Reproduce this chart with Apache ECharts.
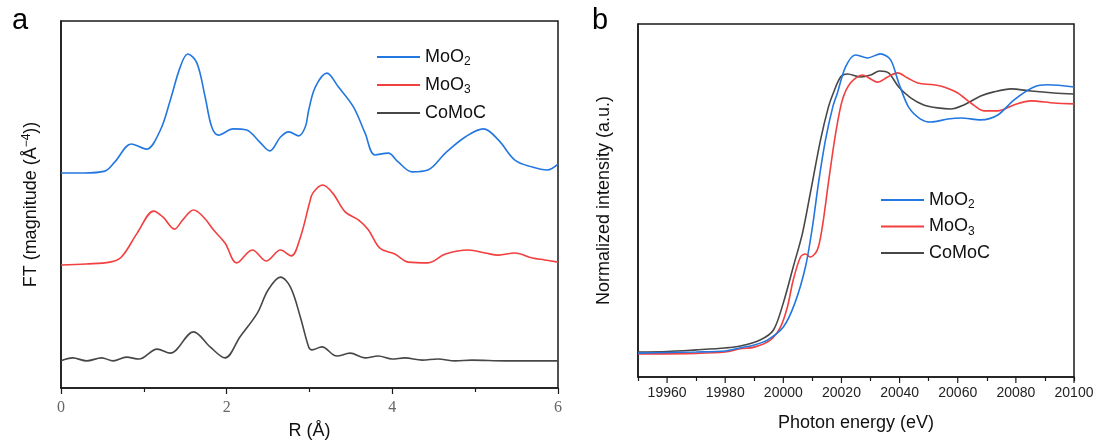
<!DOCTYPE html>
<html><head><meta charset="utf-8">
<script src="https://cdn.jsdelivr.net/npm/echarts@6/dist/echarts.min.js"></script>
<style>html,body{margin:0;padding:0;background:#fff}#c{width:1099px;height:446px}</style>
</head><body><div id="c"></div>
<script>
// ---------- DATA ----------
const seriesNames = ['MoO2', 'MoO3', 'CoMoC'];
const seriesColors = ['#2277e0', '#f23f3f', '#474747'];

// Panel a: FT magnitude (offset, arbitrary units) vs R (Å)
const ftR_MoO2 = [0,0.27,0.53,0.65,0.85,1.03,1.2,1.32,1.44,1.53,1.64,1.74,1.82,1.9,2.08,2.24,2.4,2.52,2.65,2.75,2.87,2.95,2.99,3.07,3.21,3.35,3.53,3.67,3.79,3.95,4.07,4.24,4.43,4.64,4.88,5.1,5.28,5.48,5.69,5.87,6.0];
const ftV_MoO2 = [5.86,5.86,5.91,6.16,6.65,6.51,7.03,7.85,8.75,9.10,8.86,7.93,7.11,6.89,7.06,7.03,6.70,6.46,6.84,6.98,6.87,7.12,7.57,8.20,8.58,8.20,7.66,6.95,6.35,6.40,6.16,5.89,5.94,6.40,6.84,7.06,6.76,6.21,6.02,5.94,6.10];

const ftR_MoO3 = [0,0.3,0.59,0.73,0.92,1.12,1.23,1.37,1.47,1.6,1.72,1.84,1.98,2.12,2.31,2.48,2.65,2.78,2.89,3.0,3.04,3.16,3.28,3.43,3.59,3.71,3.85,4.03,4.19,4.43,4.64,4.92,5.12,5.28,5.48,5.69,5.84,6.0];
const ftV_MoO3 = [3.35,3.38,3.43,3.57,4.22,4.82,4.66,4.33,4.58,4.85,4.66,4.31,3.95,3.41,3.76,3.46,3.76,3.60,4.11,5.04,5.31,5.53,5.31,4.80,4.58,4.31,3.81,3.65,3.43,3.41,3.65,3.76,3.68,3.62,3.68,3.54,3.49,3.43];

const ftR_CoMoC = [0,0.14,0.31,0.49,0.63,0.79,0.94,1.16,1.32,1.6,1.8,1.98,2.16,2.37,2.5,2.65,2.77,2.89,2.99,3.03,3.15,3.33,3.49,3.67,3.83,4.0,4.15,4.36,4.55,4.76,4.96,5.36,5.76,6.0];
const ftV_CoMoC = [0.74,0.82,0.74,0.82,0.74,0.84,0.79,1.06,0.95,1.53,1.12,0.82,1.39,2.04,2.67,3.02,2.75,1.93,1.12,1.04,1.12,0.87,0.95,0.82,0.87,0.79,0.82,0.76,0.79,0.74,0.76,0.74,0.74,0.74];

// Panel b: normalized intensity vs photon energy (eV)
const eE_MoO2 = [19950,19960,19970,19980,19985,19990,19994.5,20000,20004,20007.6,20010,20012.1,20014.5,20017,20018.6,20021.4,20024.8,20029,20033.4,20036.9,20039.7,20043.1,20047.2,20050.7,20056.6,20061,20067.9,20073.8,20079.3,20086.2,20091,20100];
const eV_MoO2 = [-0.012,-0.010,-0.008,-0.004,0.007,0.018,0.036,0.084,0.173,0.305,0.452,0.615,0.773,0.894,0.946,1.042,1.086,1.075,1.090,1.068,0.983,0.894,0.850,0.839,0.850,0.854,0.847,0.865,0.920,0.968,0.976,0.968];

const eE_MoO3 = [19950,19970,19980,19985.2,19990,19995.5,19999,20001.4,20003.4,20005.9,20007.6,20009.3,20011.7,20013.4,20015.5,20017.9,20020.3,20023.1,20027.2,20032.4,20035.9,20039.3,20042.8,20046.2,20051.7,20055.2,20060,20064.5,20069,20073.8,20079.3,20085.2,20093.1,20100];
const eV_MoO3 = [-0.015,-0.013,-0.008,0.004,0.010,0.036,0.084,0.158,0.257,0.342,0.353,0.342,0.368,0.452,0.615,0.791,0.920,0.983,1.012,0.986,1.005,1.020,1.001,0.983,0.976,0.968,0.946,0.909,0.880,0.880,0.902,0.917,0.909,0.906];

const eE_CoMoC = [19950,19960,19970,19980,19985.2,19992,19996.6,20000,20003.4,20006.6,20009.3,20012.8,20015.5,20017.2,20019.7,20022.1,20026.6,20030,20033.1,20036.2,20039.7,20043.8,20048.3,20053.1,20057.6,20062.1,20067.9,20072.4,20078.3,20085.2,20093.1,20100];
const eV_CoMoC = [-0.008,-0.006,0.000,0.007,0.014,0.036,0.073,0.173,0.305,0.430,0.578,0.773,0.894,0.946,1.005,1.016,1.005,1.012,1.027,1.020,0.968,0.928,0.902,0.891,0.887,0.902,0.935,0.950,0.961,0.953,0.946,0.942];

const xLabelsB = [19960,19980,20000,20020,20040,20060,20080,20100];

// ---------- CHART ----------
const zip = (a, b) => a.map((v, i) => [v, b[i]]);
const SANS = 'Liberation Sans, Arial, sans-serif';
const Y_MIN_B = -0.1, Y_MAX_B = 1.2;
const chart = echarts.init(document.getElementById('c'), null, {renderer: 'canvas'});

const legendRich = {
  sub: {fontSize: 12, fontFamily: SANS, color: '#111', verticalAlign: 'bottom', lineHeight: 22, padding: [8, 0, 0, 0]}
};
const legendFmt = n => n.replace(/(\d)$/, '{sub|$1}');

const aData = [zip(ftR_MoO2, ftV_MoO2), zip(ftR_MoO3, ftV_MoO3), zip(ftR_CoMoC, ftV_CoMoC)];
const bData = [zip(eE_MoO2, eV_MoO2), zip(eE_MoO3, eV_MoO3), zip(eE_CoMoC, eV_CoMoC)];

const series = [];
seriesNames.forEach((n, i) => {
  series.push({name: n, type: 'line', xAxisIndex: 0, yAxisIndex: 0, data: aData[i], symbol: 'none', smooth: 0.35,
    lineStyle: {width: 1.6, color: seriesColors[i]}, itemStyle: {color: seriesColors[i]}, z: 3 - i});
});
seriesNames.forEach((n, i) => {
  series.push({name: n, type: 'line', xAxisIndex: 1, yAxisIndex: 1, data: bData[i], symbol: 'none', smooth: 0.3,
    lineStyle: {width: 1.6, color: seriesColors[i]}, itemStyle: {color: seriesColors[i]}, z: 3 - i});
});
// long (labelled) ticks of panel b, placed through the axis scale
series.push({type: 'custom', xAxisIndex: 1, yAxisIndex: 1, silent: true, clip: false, z: 5,
  data: xLabelsB.map(v => [v, Y_MIN_B]),
  renderItem: (params, api) => {
    const p = api.coord([api.value(0), api.value(1)]);
    return {type: 'line', shape: {x1: p[0], y1: p[1], x2: p[0], y2: p[1] + 6},
      style: {stroke: '#1a1a1a', lineWidth: 1.2}};
  }});

const frame = {show: true, borderColor: '#1a1a1a', borderWidth: 1.5, backgroundColor: 'transparent'};
const legendCommon = {orient: 'vertical', itemWidth: 43, itemHeight: 2, icon: 'rect', data: seriesNames,
  formatter: legendFmt, selectedMode: false,
  textStyle: {fontSize: 18, fontFamily: SANS, color: '#111', lineHeight: 22, rich: legendRich}};

chart.setOption({
  animation: false,
  backgroundColor: '#fff',
  grid: [
    Object.assign({left: 61, top: 21, right: 541, bottom: 58}, frame),
    Object.assign({left: 638, top: 24, right: 25, bottom: 69}, frame)
  ],
  legend: [
    Object.assign({left: 372, top: 41, itemGap: 6}, legendCommon),
    Object.assign({left: 876, top: 184, itemGap: 4.5}, legendCommon)
  ],
  xAxis: [
    {type: 'value', gridIndex: 0, min: 0, max: 6, interval: 2,
      name: 'R (Å)', nameLocation: 'middle', nameGap: 34,
      nameTextStyle: {fontSize: 18, fontFamily: SANS, color: '#111'},
      axisLine: {show: true, onZero: false, lineStyle: {color: '#1a1a1a', width: 1.5}},
      axisTick: {show: true, inside: false, length: 6, lineStyle: {color: '#1a1a1a', width: 1.2}},
      minorTick: {show: true, splitNumber: 2, length: 4, lineStyle: {color: '#1a1a1a', width: 1.2}},
      axisLabel: {margin: 12, fontSize: 16, fontFamily: 'Liberation Serif, DejaVu Serif, serif', color: '#666', showMinLabel: true, showMaxLabel: true},
      splitLine: {show: false}, minorSplitLine: {show: false}},
    {type: 'value', gridIndex: 1, min: 19950, max: 20100, interval: 20,
      name: 'Photon energy (eV)', nameLocation: 'middle', nameGap: 37,
      nameTextStyle: {fontSize: 18, fontFamily: SANS, color: '#111'},
      axisLine: {show: true, onZero: false, lineStyle: {color: '#1a1a1a', width: 1.5}},
      axisTick: {show: true, inside: false, length: 4, lineStyle: {color: '#1a1a1a', width: 1.2}},
      axisLabel: {margin: 9, fontSize: 14, fontFamily: SANS, color: '#222', customValues: xLabelsB, hideOverlap: false,
        formatter: v => String(v)},
      splitLine: {show: false}}
  ],
  yAxis: [
    {type: 'value', gridIndex: 0, min: 0, max: 10,
      name: 'FT (magnitude (Å{sup|−4}))', nameLocation: 'middle', nameGap: 20,
      nameTextStyle: {fontSize: 18, fontFamily: SANS, color: '#111',
        rich: {sup: {fontSize: 12, fontFamily: SANS, color: '#111', verticalAlign: 'top', padding: [0, 0, 8, 0]}}},
      axisLine: {show: true, onZero: false, lineStyle: {color: '#1a1a1a', width: 1.5}},
      axisTick: {show: false}, axisLabel: {show: false}, splitLine: {show: false}},
    {type: 'value', gridIndex: 1, min: Y_MIN_B, max: Y_MAX_B,
      name: 'Normalized intensity (a.u.)', nameLocation: 'middle', nameGap: 25,
      nameTextStyle: {fontSize: 18, fontFamily: SANS, color: '#111'},
      axisLine: {show: true, onZero: false, lineStyle: {color: '#1a1a1a', width: 1.5}},
      axisTick: {show: false}, axisLabel: {show: false}, splitLine: {show: false}}
  ],
  graphic: [
    {type: 'text', left: 12, top: 6, style: {text: 'a', fontSize: 29, fontFamily: SANS, fill: '#000'}},
    {type: 'text', left: 592, top: 6, style: {text: 'b', fontSize: 29, fontFamily: SANS, fill: '#000'}}
  ],
  series: series
});
</script>
</body></html>
